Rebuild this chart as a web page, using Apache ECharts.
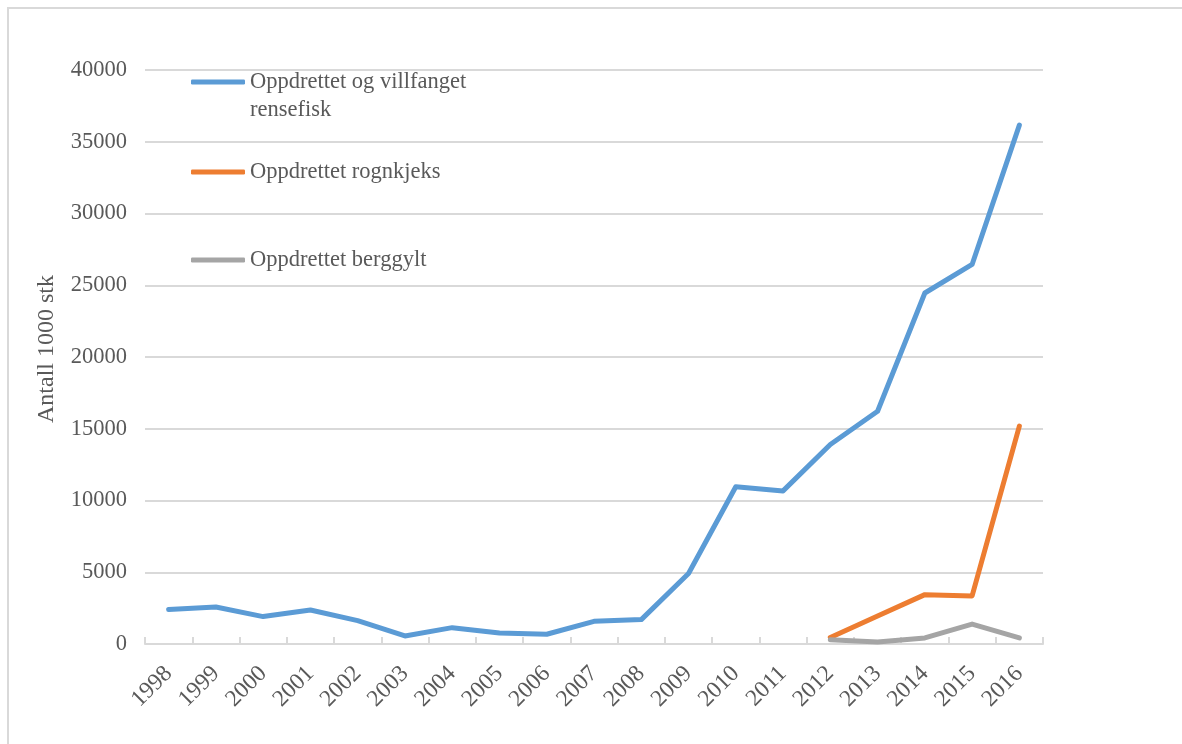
<!DOCTYPE html>
<html>
<head>
<meta charset="utf-8">
<style>
    html, body { margin: 0; padding: 0; background: #ffffff; }
    #main { width: 1182px; height: 744px; }
</style>
</head>
<body>
<div id="main"></div>
<script src="https://cdn.jsdelivr.net/npm/echarts@6/dist/echarts.min.js"></script>
<script>
    // data (antall 1000 stk)
    var years = ['1998', '1999', '2000', '2001', '2002', '2003', '2004', '2005', '2006', '2007',
        '2008', '2009', '2010', '2011', '2012', '2013', '2014', '2015', '2016'];
    var rensefisk = [2400, 2580, 1910, 2370, 1630, 560, 1140, 770, 680, 1580,
        1700, 4910, 10960, 10670, 13900, 16220, 24460, 26450, 36160];
    var rognkjeks = [null, null, null, null, null, null, null, null, null, null,
        null, null, null, null, 450, 1950, 3440, 3350, 15180];
    var berggylt = [null, null, null, null, null, null, null, null, null, null,
        null, null, null, null, 300, 140, 420, 1390, 420];
    var yTicks = [0, 40000, 5000];

    var names = ['Oppdrettet og villfanget\nrensefisk', 'Oppdrettet rognkjeks', 'Oppdrettet berggylt'];
    var colors = ['#5b9bd5', '#ed7d31', '#a5a5a5'];
    var font = '"Liberation Serif", "DejaVu Serif", serif';
    var textCol = '#595959';
    var fs = 22.5;

    function legendAt(i, top, twoLine) {
        return {
            data: [names[i]],
            orient: 'vertical',
            left: 191,
            top: top,
            padding: 0,
            icon: 'roundRect',
            itemWidth: 54,
            itemHeight: 5,
            itemGap: 0,
            selectedMode: false,
            // empty first line keeps the icon level with the first text line
            formatter: function (name) {
                return twoLine ? '\n' + name : name;
            },
            textStyle: {
                fontFamily: font,
                fontSize: fs,
                color: textCol,
                lineHeight: 28
            }
        };
    }

    var myChart = echarts.init(document.getElementById('main'));

    var option = {
        backgroundColor: '#ffffff',
        animation: false,
        textStyle: {fontFamily: font},
        graphic: [{
            type: 'rect',
            shape: {x: 8, y: 8, width: 1400, height: 1000},
            style: {fill: 'none', stroke: '#d9d9d9', lineWidth: 2},
            silent: true
        }],
        legend: [
            legendAt(0, 40, true),
            legendAt(1, 158, false),
            legendAt(2, 246, false)
        ],
        grid: {
            left: 145,
            right: 139,
            top: 70,
            bottom: 100
        },
        xAxis: {
            type: 'category',
            data: years,
            boundaryGap: true,
            axisLine: {lineStyle: {color: '#d9d9d9', width: 2}},
            axisTick: {
                show: true,
                inside: true,
                length: 7,
                lineStyle: {color: '#d9d9d9', width: 2}
            },
            axisLabel: {
                rotate: 45,
                interval: 0,
                margin: 26,
                fontFamily: font,
                fontSize: 23.5,
                color: textCol
            }
        },
        yAxis: {
            type: 'value',
            min: yTicks[0],
            max: yTicks[1],
            interval: yTicks[2],
            name: 'Antall 1000 stk',
            nameLocation: 'middle',
            nameGap: 86,
            nameRotate: 90,
            nameTextStyle: {fontFamily: font, fontSize: 24, color: textCol, padding: [0, 0, 0, 16]},
            axisLine: {show: false},
            axisTick: {show: false},
            axisLabel: {
                margin: 18,
                fontFamily: font,
                fontSize: fs,
                color: textCol,
                formatter: function (v) { return String(v); }
            },
            splitLine: {
                show: true,
                lineStyle: {color: '#d9d9d9', width: 2}
            }
        },
        series: [
            {
                name: names[0],
                type: 'line',
                data: rensefisk,
                symbol: 'none',
                color: colors[0],
                lineStyle: {width: 5, cap: 'round', join: 'round'}
            },
            {
                name: names[1],
                type: 'line',
                data: rognkjeks,
                symbol: 'none',
                color: colors[1],
                lineStyle: {width: 5, cap: 'round', join: 'round'}
            },
            {
                name: names[2],
                type: 'line',
                data: berggylt,
                symbol: 'none',
                color: colors[2],
                lineStyle: {width: 5, cap: 'round', join: 'round'}
            }
        ]
    };

    myChart.setOption(option);
</script>
</body>
</html>
